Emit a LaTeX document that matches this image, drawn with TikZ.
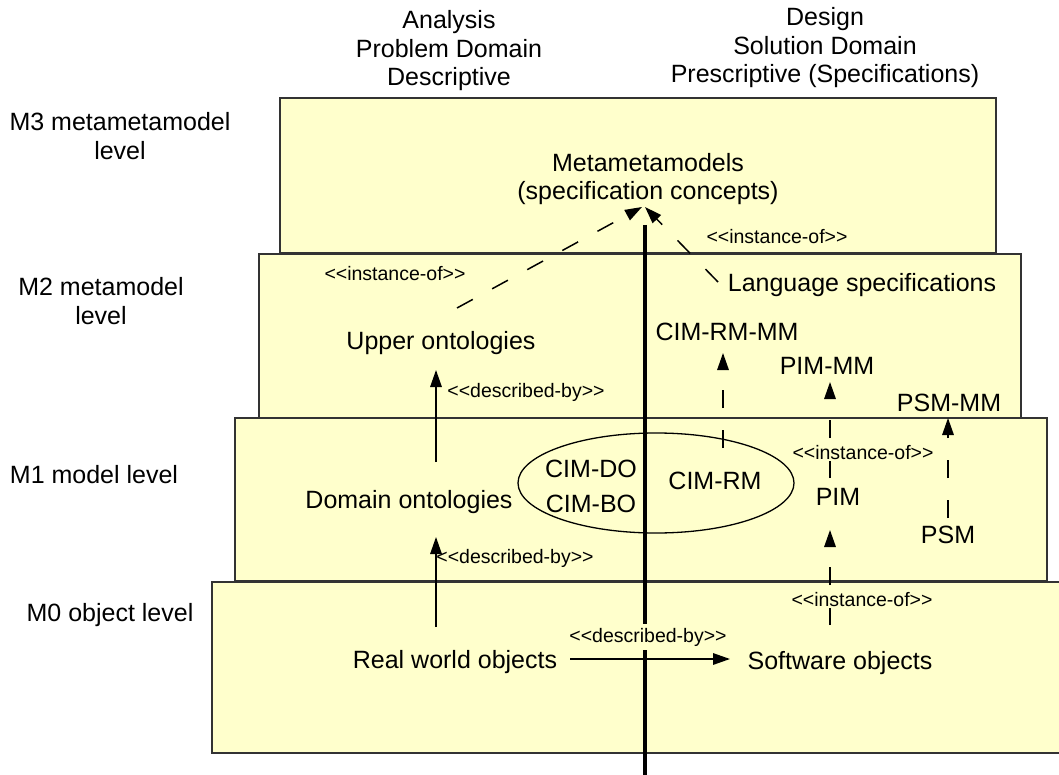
\documentclass[tikz,border=0pt]{standalone}
\usepackage{fontspec}
\setmainfont{Liberation Sans}
\usetikzlibrary{arrows.meta,shapes.geometric}
\definecolor{levelfill}{HTML}{FFFFCC}
\definecolor{levelline}{HTML}{333333}
\pgfdeclarelayer{boxes}
\pgfdeclarelayer{links}
\pgfsetlayers{boxes,links,main}
\begin{document}
\begin{tikzpicture}[x=1pt,y=-1pt,
  level/.style={draw=levelline, line width=1.8pt, fill=levelfill},
  big/.style={font=\fontsize{25}{28.5}\selectfont, inner sep=2pt},
  lbl/.style={big, anchor=base},
  hdr/.style={big, align=center},
  tag/.style={font=\fontsize{19.5}{22}\selectfont, anchor=base, inner sep=1.5pt},
  tagfill/.style={tag, fill=levelfill},
  tip/.style={-{Triangle[length=17pt,width=11.5pt]}},
  solidarr/.style={tip, line width=1.5pt},
  dasharr/.style={tip, line width=1.5pt, dash pattern=on 18pt off 22pt},
]
\useasboundingbox (0,0) rectangle (1059,775);

% the four stacked level boxes
\begin{pgfonlayer}{boxes}
  \draw[level] (280,98) rectangle (996,253);
  \draw[level] (259,254) rectangle (1021,418);
  \draw[level] (235,418) rectangle (1047,581);
  \draw[level] (212,582) rectangle (1075,753);
\end{pgfonlayer}

% column headings
\node[hdr] (hanalysis) at (449,51) {Analysis\\Problem Domain\\Descriptive};
\node[hdr] (hdesign) at (825,48) {Design\\Solution Domain\\Prescriptive (Specifications)};

% level names
\node[hdr] (m3) at (120,136) {M3 metametamodel\\level};
\node[hdr] (m2) at (101,301) {M2 metamodel\\level};
\node[lbl] (m1) at (94,483) {M1 model level};
\node[lbl] (m0) at (110,621) {M0 object level};

% M3
\node[hdr] (meta) at (648,179) {Metametamodels\\(specification concepts)};
\node[tag] (inst1) at (777,244) {<{}<instance-of>{}>};

% M2
\node[tag] (inst2) at (395,281) {<{}<instance-of>{}>};
\node[lbl] (lang) at (862,291) {Language specifications};
\node[lbl] (upper) at (441,349) {Upper ontologies};
\node[tag] (desc1) at (526,397) {<{}<described-by>{}>};
\node[lbl] (cimrmmm) at (727,340) {CIM-RM-MM};
\node[lbl] (pimmm) at (827,374) {PIM-MM};
\node[lbl] (psmmm) at (949,411) {PSM-MM};

% M1
\node[lbl] (dom) at (409,508) {Domain ontologies};
\node[lbl] (cimdo) at (591,477) {CIM-DO};
\node[lbl] (cimbo) at (591,512) {CIM-BO};
\node[lbl] (cimrm) at (715,489) {CIM-RM};
\node[tag] (desc2) at (515,563) {<{}<described-by>{}>};
\node[tagfill] (inst3) at (863,459) {<{}<instance-of>{}>};
\node[lbl] (pim) at (838,505) {PIM};
\node[lbl] (psm) at (948,543) {PSM};

% M0
\node[tagfill] (inst4) at (862,606) {<{}<instance-of>{}>};
\node[tagfill, inner sep=4pt] (desc3) at (648,642) {<{}<described-by>{}>};
\node[lbl] (real) at (455,668) {Real world objects};
\node[lbl] (soft) at (840,669) {Software objects};

\begin{pgfonlayer}{links}
  % analysis / design divider
  \coordinate (divtop) at (645,225);
  \coordinate (divbot) at (645,780);
  \draw[line width=3.2pt] (divtop) -- (divbot);

  % CIM group
  \node[ellipse, draw, line width=1.3pt, minimum width=276pt, minimum height=100pt] (cimgroup) at (656,483) {};

  % described-by
  \draw[solidarr] ([shift={(27,-46)}]dom.base) -- ([shift={(-5,21)}]upper.base);
  \draw[solidarr] ([shift={(-19,-41)}]real.base) -- ([shift={(27,29)}]dom.base);
  \draw[solidarr] ([shift={(115,-9)}]real.base) -- ([shift={(-110,-10)}]soft.base);

  % instance-of
  \draw[dasharr] ([shift={(8,-41)}]cimrm.base) -- ([shift={(-4,13)}]cimrmmm.base);
  \draw[dasharr] ([shift={(-8,-27)}]pim.base) -- ([shift={(3,8)}]pimmm.base);
  \draw[dasharr] ([shift={(-10,-44)}]soft.base) -- ([shift={(-8,25)}]pim.base);
  \draw[dasharr] ([shift={(0,-25)}]psm.base) -- ([shift={(-1,7)}]psmmm.base);
  \draw[dasharr] ([shift={(16,-41)}]upper.base) -- ([shift={(-6,28)}]meta.center);
  \draw[dasharr] ([shift={(-144,-9)}]lang.base) -- ([shift={(-3,28)}]meta.center);
\end{pgfonlayer}
\end{tikzpicture}
\end{document}
